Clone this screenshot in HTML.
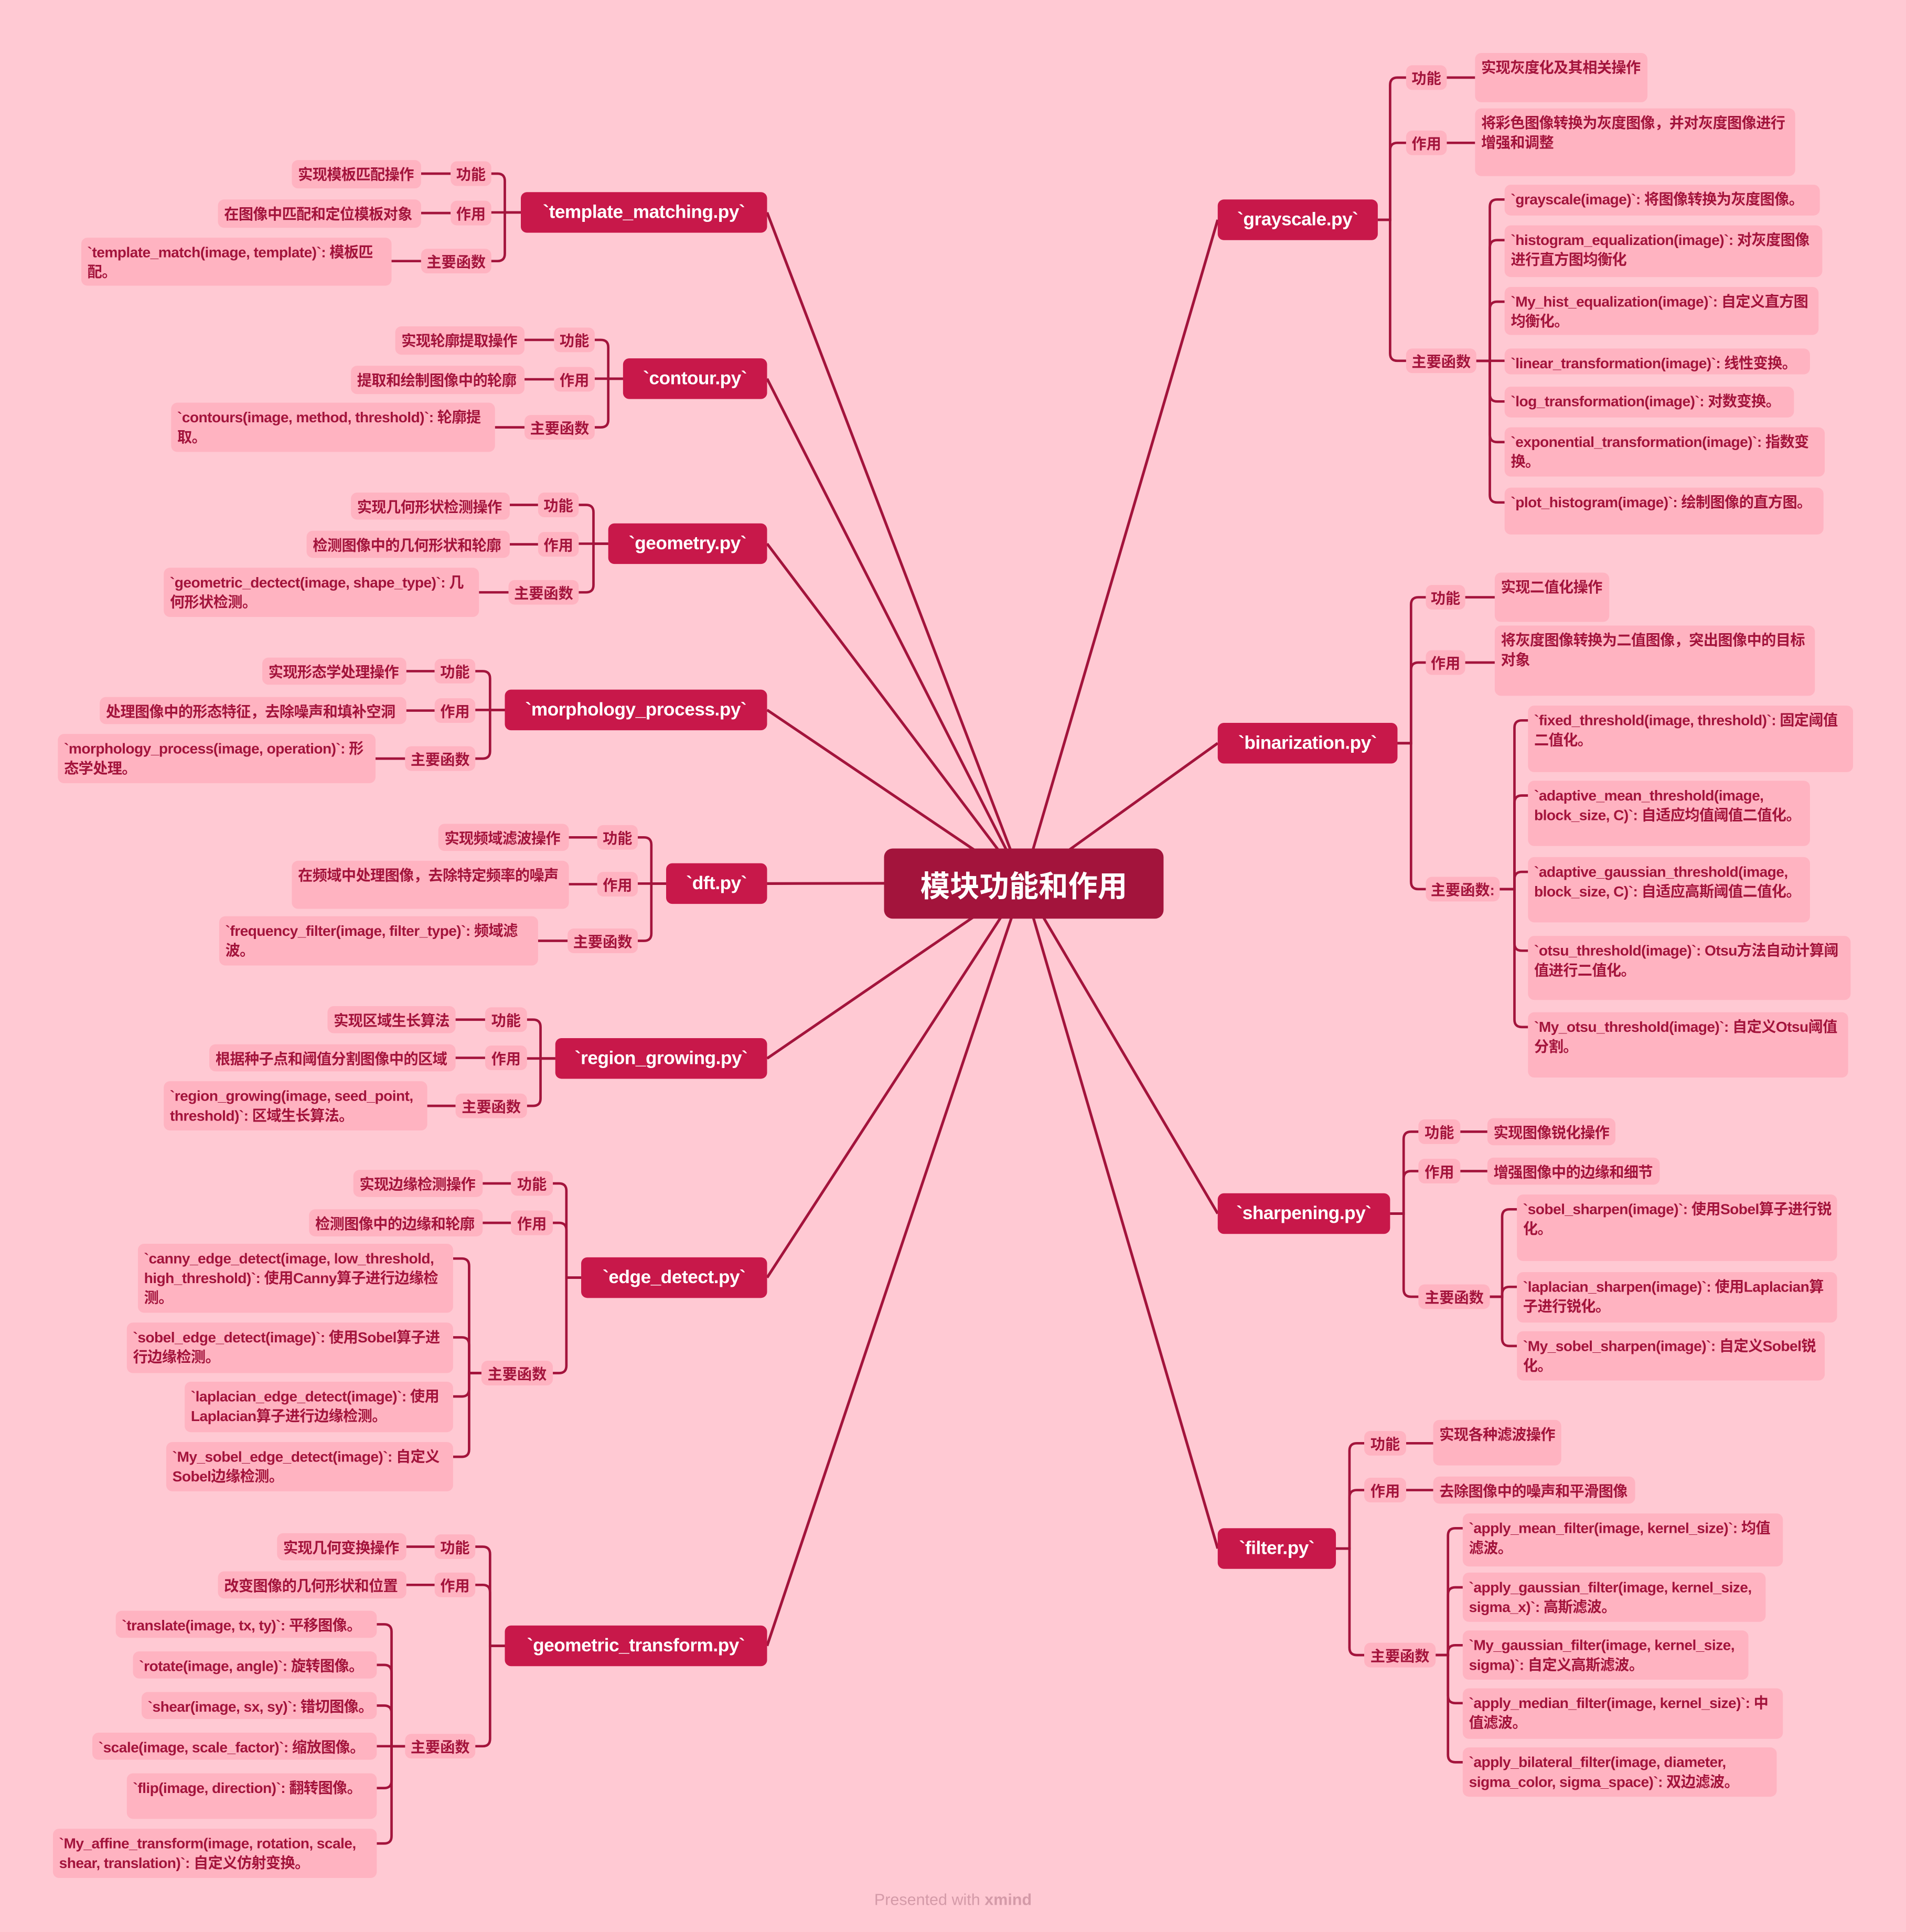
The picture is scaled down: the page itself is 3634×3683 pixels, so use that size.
<!DOCTYPE html>
<html><head><meta charset="utf-8">
<style>
html,body{margin:0;padding:0;}
body{width:3634px;height:3682px;overflow:hidden;background:#FFC9D3;}
#stage{position:absolute;left:0;top:0;width:1548px;height:1569px;transform:scale(2.34755);transform-origin:0 0;font-family:"Liberation Sans","Noto Sans CJK SC",sans-serif;}
svg{position:absolute;left:0;top:0;}
.n{position:absolute;box-sizing:border-box;}
.c{background:#A3143C;color:#fff;font-size:24px;font-weight:bold;border-radius:7px;display:flex;align-items:center;justify-content:center;}
.t{background:#C8184A;color:#fff;font-size:15px;font-weight:bold;border-radius:5px;display:flex;align-items:center;justify-content:center;letter-spacing:-0.2px;}
.l{background:#FFB3C1;color:#A3143C;font-size:12px;font-weight:bold;border-radius:5px;display:flex;align-items:center;justify-content:center;}
.f{background:#FFB3C1;color:#A3143C;font-size:12px;font-weight:bold;border-radius:5px;padding:4px 5px;line-height:16px;white-space:pre;overflow:hidden;letter-spacing:-0.25px;}
#foot{position:absolute;left:0;width:1548px;top:1535px;text-align:center;font-size:13px;color:#D49AA8;}
</style></head>
<body>
<div id="stage">
<svg id="lines" width="1548" height="1569" viewBox="0 0 1548 1569"></svg>
<div id="foot">Presented with <b>xmind</b></div>
</div>
<script>
const stage=document.getElementById('stage');
const svg=document.getElementById('lines');
const NS='http://www.w3.org/2000/svg';
const COL='#A3143C';
function path(d,w){const p=document.createElementNS(NS,'path');p.setAttribute('d',d);p.setAttribute('stroke',COL);p.setAttribute('stroke-width',w||2);p.setAttribute('fill','none');


svg.appendChild(p);}
function node(x1,y1,x2,y2,txt,cls,name){const d=document.createElement('div');d.className='n '+cls;
d.style.left=x1+'px';d.style.top=y1+'px';d.style.width=(x2-x1)+'px';d.style.height=(y2-y1)+'px';d.textContent=txt;


stage.appendChild(d);return d;}
const CX=831,CY=717;
const topics=[
['R',989,162,1119,195,'`grayscale.py`',1129,
 [[1142,1175,63,'功能',[1198,43,1338,83,'实现灰度化及其相关操作']],
  [1142,1175,116,'作用',[1198,88,1458,143,'将彩色图像转换为灰度图像，并对灰度图像进行\n增强和调整']],
  [1142,1199,293,'主要函数',null]],1210,
 [[1222,150,1478,175,'`grayscale(image)`: 将图像转换为灰度图像。'],
  [1222,183,1480,225,'`histogram_equalization(image)`: 对灰度图像\n进行直方图均衡化'],
  [1222,233,1477,272,'`My_hist_equalization(image)`: 自定义直方图\n均衡化。'],
  [1222,283,1470,304,'`linear_transformation(image)`: 线性变换。'],
  [1222,314,1457,339,'`log_transformation(image)`: 对数变换。'],
  [1222,347,1482,387,'`exponential_transformation(image)`: 指数变\n换。'],
  [1222,396,1481,434,'`plot_histogram(image)`: 绘制图像的直方图。']]],
['R',989,587,1135,620,'`binarization.py`',1146,
 [[1158,1190,485,'功能',[1214,465,1307,505,'实现二值化操作']],
  [1158,1190,538,'作用',[1214,508,1474,565,'将灰度图像转换为二值图像，突出图像中的目标\n对象']],
  [1158,1218,722,'主要函数:',null]],1230,
 [[1241,573,1505,627,'`fixed_threshold(image, threshold)`: 固定阈值\n二值化。'],
  [1241,634,1470,687,'`adaptive_mean_threshold(image,\nblock_size, C)`: 自适应均值阈值二值化。'],
  [1241,696,1470,749,'`adaptive_gaussian_threshold(image,\nblock_size, C)`: 自适应高斯阈值二值化。'],
  [1241,760,1503,812,'`otsu_threshold(image)`: Otsu方法自动计算阈\n值进行二值化。'],
  [1241,822,1501,875,'`My_otsu_threshold(image)`: 自定义Otsu阈值\n分割。']]],
['R',989,969,1129,1002,'`sharpening.py`',1140,
 [[1152,1186,919,'功能',[1208,908,1312,930,'实现图像锐化操作']],
  [1152,1186,951,'作用',[1208,940,1348,962,'增强图像中的边缘和细节']],
  [1152,1210,1053,'主要函数',null]],1220,
 [[1232,970,1492,1024,'`sobel_sharpen(image)`: 使用Sobel算子进行锐\n化。'],
  [1232,1033,1492,1074,'`laplacian_sharpen(image)`: 使用Laplacian算\n子进行锐化。'],
  [1232,1081,1482,1121,'`My_sobel_sharpen(image)`: 自定义Sobel锐\n化。']]],
['R',989,1241,1085,1274,'`filter.py`',1096,
 [[1108,1142,1172,'功能',[1164,1153,1268,1190,'实现各种滤波操作']],
  [1108,1142,1210,'作用',[1164,1199,1328,1221,'去除图像中的噪声和平滑图像']],
  [1108,1166,1344,'主要函数',null]],1176,
 [[1188,1229,1448,1272,'`apply_mean_filter(image, kernel_size)`: 均值\n滤波。'],
  [1188,1277,1434,1317,'`apply_gaussian_filter(image, kernel_size,\nsigma_x)`: 高斯滤波。'],
  [1188,1324,1420,1364,'`My_gaussian_filter(image, kernel_size,\nsigma)`: 自定义高斯滤波。'],
  [1188,1371,1448,1412,'`apply_median_filter(image, kernel_size)`: 中\n值滤波。'],
  [1188,1419,1443,1459,'`apply_bilateral_filter(image, diameter,\nsigma_color, sigma_space)`: 双边滤波。']]],
['L',423,156,623,189,'`template_matching.py`',410,
 [[366,399,141,'功能',[237,130,342,153,'实现模板匹配操作']],
  [366,399,173,'作用',[177,162,342,185,'在图像中匹配和定位模板对象']],
  [342,399,212,'主要函数',[66,193,318,232,'`template_match(image, template)`: 模板匹\n配。']]],0,[]],
['L',506,291,623,324,'`contour.py`',494,
 [[450,483,276,'功能',[321,265,426,288,'实现轮廓提取操作']],
  [450,483,308,'作用',[285,297,426,320,'提取和绘制图像中的轮廓']],
  [426,483,347,'主要函数',[139,327,402,367,'`contours(image, method, threshold)`: 轮廓提\n取。']]],0,[]],
['L',494,425,623,458,'`geometry.py`',482,
 [[437,470,410,'功能',[285,400,414,422,'实现几何形状检测操作']],
  [437,470,442,'作用',[249,431,414,453,'检测图像中的几何形状和轮廓']],
  [413,470,481,'主要函数',[133,461,389,501,'`geometric_dectect(image, shape_type)`: 几\n何形状检测。']]],0,[]],
['L',410,560,623,593,'`morphology_process.py`',398,
 [[353,386,545,'功能',[213,534,330,556,'实现形态学处理操作']],
  [353,386,577,'作用',[81,566,330,588,'处理图像中的形态特征，去除噪声和填补空洞']],
  [329,386,616,'主要函数',[47,596,305,636,'`morphology_process(image, operation)`: 形\n态学处理。']]],0,[]],
['L',541,701,623,734,'`dft.py`',529,
 [[485,518,680,'功能',[356,669,462,691,'实现频域滤波操作']],
  [485,518,718,'作用',[237,699,462,738,'在频域中处理图像，去除特定频率的噪声']],
  [461,518,764,'主要函数',[178,744,437,784,'`frequency_filter(image, filter_type)`: 频域滤\n波。']]],0,[]],
['L',451,843,623,876,'`region_growing.py`',439,
 [[394,428,828,'功能',[266,817,370,839,'实现区域生长算法']],
  [394,428,859,'作用',[170,848,370,870,'根据种子点和阈值分割图像中的区域']],
  [370,428,898,'主要函数',[133,878,347,918,'`region_growing(image, seed_point,\nthreshold)`: 区域生长算法。']]],0,[]],
['L',472,1021,623,1054,'`edge_detect.py`',460,
 [[415,449,961,'功能',[287,950,392,972,'实现边缘检测操作']],
  [415,449,993,'作用',[251,982,392,1004,'检测图像中的边缘和轮廓']],
  [391,449,1115,'主要函数',null]],381,
 [[112,1010,368,1066,'`canny_edge_detect(image, low_threshold,\nhigh_threshold)`: 使用Canny算子进行边缘检\n测。'],
  [103,1074,368,1115,'`sobel_edge_detect(image)`: 使用Sobel算子进\n行边缘检测。'],
  [150,1122,368,1163,'`laplacian_edge_detect(image)`: 使用\nLaplacian算子进行边缘检测。'],
  [135,1171,368,1211,'`My_sobel_edge_detect(image)`: 自定义\nSobel边缘检测。']]],
['L',410,1320,623,1353,'`geometric_transform.py`',398,
 [[353,386,1256,'功能',[225,1245,330,1267,'实现几何变换操作']],
  [353,386,1287,'作用',[177,1276,330,1298,'改变图像的几何形状和位置']],
  [329,386,1418,'主要函数',null]],318,
 [[94,1308,306,1330,'`translate(image, tx, ty)`: 平移图像。'],
  [108,1341,306,1363,'`rotate(image, angle)`: 旋转图像。'],
  [115,1374,306,1396,'`shear(image, sx, sy)`: 错切图像。'],
  [75,1407,306,1429,'`scale(image, scale_factor)`: 缩放图像。'],
  [103,1440,306,1477,'`flip(image, direction)`: 翻转图像。'],
  [43,1485,306,1525,'`My_affine_transform(image, rotation, scale,\nshear, translation)`: 自定义仿射变换。']]]
];
function bend(px,py,xb,cy,ex){const r=6,s=ex>xb?1:-1;
 if(Math.abs(cy-py)<1){path(`M${px},${py} H${ex}`);return;}
 const dy=cy>py?1:-1;
 path(`M${px},${py} H${xb} V${cy-dy*r} Q${xb},${cy} ${xb+s*r},${cy} H${ex}`);}
function ay(y1,y2){return y1+Math.min((y2-y1)/2,12);}
topics.forEach(t=>{
 const [side,x1,y1,x2,y2,txt,bx,labels,fbx,fns]=t;
 const R=side==='R';const ty=(y1+y2)/2;
 path(`M${CX},${CY} L${R?x1:x2},${ty}`,2.2);
 const pe=R?x2:x1;
 labels.forEach(l=>{
   const [lx1,lx2,lcy,ltxt,leaf]=l;
   bend(pe,ty,bx,lcy,R?lx1:lx2);
   node(lx1,lcy-10,lx2,lcy+10,ltxt,'l','branch-label');
   if(leaf){const [a,b,c,d,s]=leaf;path(`M${R?lx2:lx1},${lcy} H${R?a:c}`);node(a,b,c,d,s,'f','leaf-note');}
   if(!leaf&&fns.length){const le=R?lx2:lx1;
     fns.forEach(f=>{const [a,b,c,d,s]=f;bend(le,lcy,fbx,ay(b,d),R?a:c);node(a,b,c,d,s,'f','function-note');});}
 });
 node(x1,y1,x2,y2,txt,'t','topic-'+txt.replace(/[`.]/g,'').replace(/_/g,'-'));
});
node(718,689,945,746,'模块功能和作用','c','central-topic');
</script>
</body></html>
